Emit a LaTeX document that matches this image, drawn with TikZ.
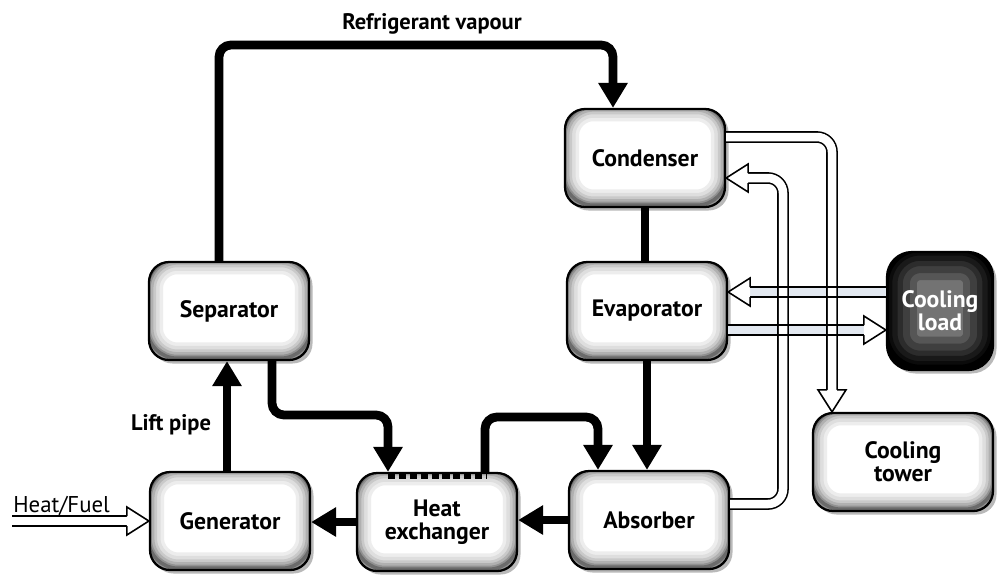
\documentclass[tikz,border=0pt]{standalone}
\usepackage{fontspec}
\setmainfont{PT Sans}
\usetikzlibrary{arrows.meta,calc,shadows}
\definecolor{loopfill}{RGB}{226,232,240}
\colorlet{darkcore}{black!55}
\tikzset{
  hollowhead/.pic={
    \filldraw[draw=black, fill=white, line width=0.9pt, line join=miter]
      (-22,-5) -- (-22,-14) -- (0,0) -- (-22,14) -- (-22,5);
  },
  % soft rim inside a box: nested bands darkening from the core colour #1
  rim/.style={fill=#1, path picture={
    \foreach \w/\p in {18pt/7, 14pt/13, 10pt/21, 7pt/31, 4pt/43, 2pt/58}
      \draw[draw=black!\p!#1, line width=\w, rounded corners=0.6cm]
        ([xshift=-1pt,yshift=1pt]path picture bounding box.south west) rectangle
        ([xshift=1pt,yshift=2pt]path picture bounding box.north east);
  }},
  darkrim/.style={fill=#1, path picture={
    \foreach \w/\p in {36pt/25, 28pt/45, 20pt/62, 14pt/78, 8pt/90, 4pt/100}
      \draw[draw=black!\p!#1, line width=\w, rounded corners=0.7cm]
        ([xshift=-1pt,yshift=1pt]path picture bounding box.south west) rectangle
        ([xshift=1pt,yshift=2pt]path picture bounding box.north east);
  }}
}
\begin{document}
\begin{tikzpicture}[x=0.02cm,y=-0.02cm,
  unit/.style={draw=black, line width=1.3pt, rounded corners=0.4cm,
    minimum width=3.2cm, minimum height=1.96cm, align=center,
    rim=white,
    font=\bfseries\fontsize{13.5}{15}\selectfont,
    drop shadow={shadow xshift=2pt, shadow yshift=-2pt, fill=black!55}},
  darkunit/.style={unit, darkrim=darkcore,
    text=white, minimum width=2.12cm, minimum height=2.36cm,
    rounded corners=0.5cm},
  pipe/.style={line width=5pt, rounded corners=0.24cm},
  flow/.style={pipe, -{Triangle[length=0.5cm,width=0.56cm]}},
  hpipe/.style={draw=black, line width=0.9pt, double=white,
    double distance=0.17cm, rounded corners=0.3cm},
  lpipe/.style={hpipe, double=loopfill},
  edge/.style={line width=0.9pt},
  lbl/.style={font=\bfseries\fontsize{12.8}{14}\selectfont, inner sep=0pt}
]
\useasboundingbox (0,0) rectangle (1000,576);

% components
\node[unit] (cond) at (645,158) {Condenser};
\node[unit] (evap) at (647,311) {Evaporator};
\node[unit] (abs)  at (649,520) {Absorber};
\node[unit] (hx)   at (437,522) {Heat\\[-2pt]exchanger};
\node[unit] (gen)  at (230,521) {Generator};
\node[unit] (sep)  at (229,311) {Separator};
\node[darkunit] (load) at (940,311) {Cooling\\[-2pt]load};
\node[unit, minimum width=3.6cm] (tower) at (903,462) {Cooling\\[-2pt]tower};

% perforated top of the heat exchanger
\draw[line width=2.8pt, dash pattern=on 4pt off 2.2pt]
  ($(hx.north)+(-49,5)$) -- ($(hx.north)+(50,5)$);

% labels
\node[lbl] (rvlabel) at (432,24) {Refrigerant vapour};
\node[lbl] (liftlabel) at (171,425) {Lift pipe};
\node[inner sep=0pt, anchor=base west, font=\fontsize{13}{15}\selectfont]
  (hflabel) at (13,512) {Heat/Fuel};

% refrigerant / solution circuit
\coordinate (rv) at (613,45);
\draw[flow] ($(sep.north)+(-10,0)$) |- (rv) -- (rv |- cond.north);
\draw[pipe] (cond.south) -- (cond.south |- evap.north);
\draw[flow] (evap.south) -- (evap.south |- abs.north);
\coordinate (hxa) at (598,417);
\draw[flow] ($(hx.north)+(48,0)$) |- (hxa) -- (hxa |- abs.north);
\coordinate (sh) at (388,415);
\draw[flow] ($(sep.south)+(43,0)$) |- (sh) -- (sh |- hx.north);
\coordinate (lp) at ($(gen.north)+(-3,0)$);
\draw[flow] (lp) -- (lp |- sep.south);
\draw[flow] (abs.west) -- (abs.west -| hx.east);
\draw[flow] (hx.west) -- (hx.west -| gen.east);

% heat input
\coordinate (hfsrc) at (12,521);
\draw[hpipe] (hfsrc) -- ($(gen.west)+(-22,0)$);
\pic at (gen.west) {hollowhead};

% chilled water loop to the cooling load
\draw[lpipe] ($(load.west)+(0,-19)$) -- ($(evap.east)+(22,-19)$);
\pic[rotate=180] at ($(evap.east)+(0,-19)$) {hollowhead};
\draw[lpipe] ($(evap.east)+(0,19)$) -- ($(load.west)+(-22,19)$);
\pic at ($(load.west)+(0,19)$) {hollowhead};

% cooling water loop
\coordinate (ct) at (832,137);
\draw[hpipe] ($(cond.east)+(0,-21)$) -- (ct) -- ($(ct |- tower.north)+(0,-22)$);
\pic[rotate=-90] at (ct |- tower.north) {hollowhead};
\coordinate (ac) at (783,178);
\draw[hpipe] ($(abs.east)+(0,-16)$) -| (ac) -- ($(cond.east)+(22,20)$);
\pic[rotate=180] at ($(cond.east)+(0,20)$) {hollowhead};

% chilled water walls stay visible where the loops cross
\draw[edge] ($(load.west)+(0,-24)$) -- ($(evap.east)+(22,-24)$);
\draw[edge] ($(load.west)+(0,-14)$) -- ($(evap.east)+(22,-14)$);
\draw[edge] ($(evap.east)+(0,14)$) -- ($(load.west)+(-22,14)$);
\draw[edge] ($(evap.east)+(0,24)$) -- ($(load.west)+(-22,24)$);
\end{tikzpicture}
\end{document}
